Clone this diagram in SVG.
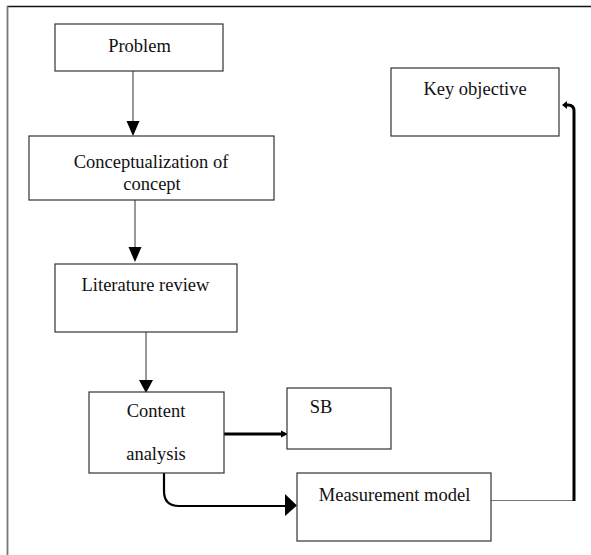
<svg xmlns="http://www.w3.org/2000/svg" width="591" height="555" viewBox="0 0 591 555">
<style>
.box{fill:#fff;stroke:#333;stroke-width:1.2}
.t{font-family:"Liberation Serif","Times New Roman",serif;font-size:18.5px;fill:#111;text-anchor:middle}
.thin{fill:none;stroke:#333;stroke-width:1}
.thick{fill:none;stroke:#000;stroke-width:3}
.mid{fill:none;stroke:#000;stroke-width:2.2}
.head{fill:#000}
</style>
<rect width="591" height="555" fill="#fff"/>
<g id="frame">
<line x1="7" y1="6.5" x2="591" y2="6.5" stroke="#111" stroke-width="1.5"/>
<line x1="7.5" y1="6" x2="7.5" y2="555" stroke="#777" stroke-width="1.8"/>
</g>
<g id="connectors">
<line class="thin" x1="133" y1="71" x2="133" y2="122"/>
<polygon class="head" points="126.5,121 139.5,121 133,136"/>
<line class="thin" x1="135" y1="200" x2="135" y2="248"/>
<polygon class="head" points="128.5,247 141.5,247 135,262"/>
<line class="thin" x1="146" y1="332" x2="146" y2="381"/>
<polygon class="head" points="139,380 153,380 146,393"/>
<line class="thick" x1="224" y1="434" x2="282" y2="434"/>
<polygon class="head" points="281,430.5 288,434 281,437.5"/>
<path class="mid" d="M164,473 V491 Q164,506 179,506 H286"/>
<polygon class="head" points="285,494 297,505.5 285,516"/>
<line x1="491" y1="500.5" x2="574" y2="500.5" stroke="#777" stroke-width="1.2"/>
<path class="thick" d="M574,501 V111 Q574,105 568,105 H566"/>
<polygon class="head" points="567,101 562,105 567,109"/>
</g>
<g id="problem">
<rect class="box" x="55" y="24" width="168" height="47"/>
<text class="t" x="139.5" y="52">Problem</text>
</g>
<g id="concept">
<rect class="box" x="29" y="136" width="245" height="64"/>
<text class="t" x="151" y="168">Conceptualization of</text>
<text class="t" x="152" y="190">concept</text>
</g>
<g id="literature">
<rect class="box" x="55" y="264" width="182" height="68"/>
<text class="t" x="145.5" y="291">Literature review</text>
</g>
<g id="content">
<rect class="box" x="89" y="392" width="135" height="81"/>
<text class="t" x="156" y="417">Content</text>
<text class="t" x="156" y="460">analysis</text>
</g>
<g id="sb">
<rect class="box" x="287" y="388" width="104" height="61"/>
<text class="t" x="321" y="413">SB</text>
</g>
<g id="measurement">
<rect class="box" x="297" y="473" width="194" height="68"/>
<text class="t" x="394.5" y="501">Measurement model</text>
</g>
<g id="key">
<rect class="box" x="391" y="68" width="168" height="68"/>
<text class="t" x="475" y="95">Key objective</text>
</g>
</svg>
